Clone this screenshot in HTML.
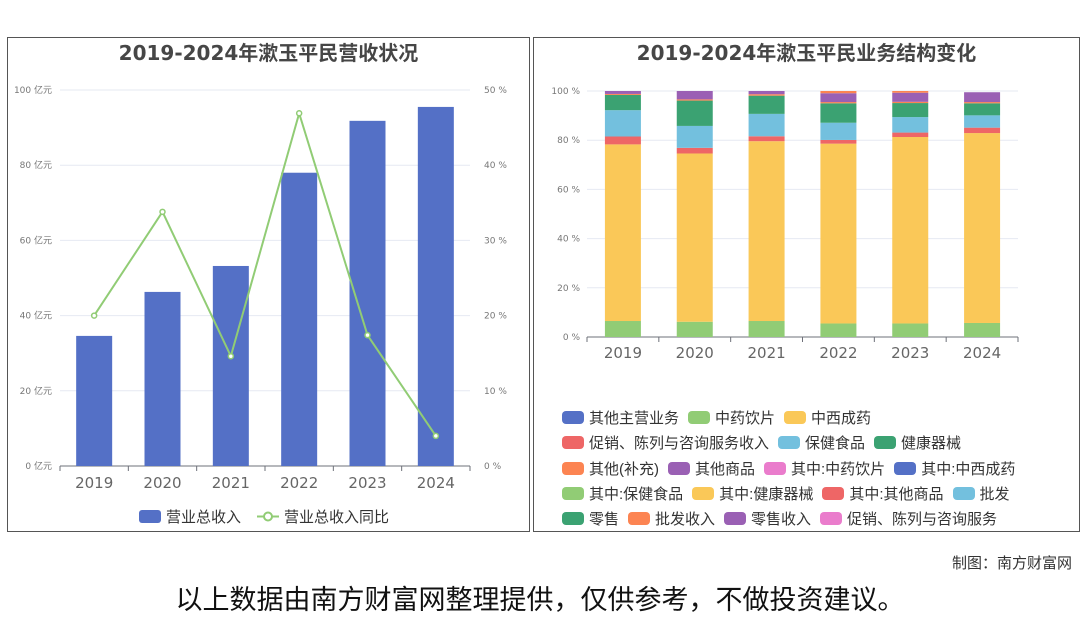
<!DOCTYPE html>
<html><head><meta charset="utf-8"><style>
body{margin:0;width:1080px;height:614px;background:#fff;font-family:"Liberation Sans","Noto Sans CJK SC",sans-serif;position:relative;overflow:hidden}
.panel{position:absolute;border:1px solid #555;background:#fff}
.title{position:absolute;width:100%;text-align:center;top:-1px;font-size:20px;font-weight:bold;color:#464646;font-family:"DejaVu Sans","Noto Sans CJK SC",sans-serif}
.leg{position:absolute;left:28px;font-size:15px;color:#333;display:flex;align-items:center;white-space:nowrap}
.leg span.m{display:inline-block;width:22px;height:13px;border-radius:4px;margin-right:5px}
.leg span.t{margin-right:9px}
svg text{font-family:"DejaVu Sans","Noto Sans CJK SC",sans-serif}
</style></head><body>
<div class="panel" style="left:7px;top:37px;width:521px;height:493px">
<div class="title">2019-2024年漱玉平民营收状况</div>
</div>
<div class="panel" style="left:533px;top:37px;width:545px;height:493px">
<div class="title">2019-2024年漱玉平民业务结构变化</div>
<div id="legR"></div>
</div>
<svg id="s" width="1080" height="614" style="position:absolute;left:0;top:0"></svg>
<div style="position:absolute;right:8px;top:552px;font-size:15px;color:#333">制图：南方财富网</div>
<div style="position:absolute;left:0;width:1080px;top:578px;text-align:center;font-size:27px;color:#111">以上数据由南方财富网整理提供，仅供参考，不做投资建议。</div>
<script>
const years=["2019","2020","2021","2022","2023","2024"];
const revenue=[34.6,46.3,53.2,78.0,91.8,95.5];
const growth=[20.0,33.8,14.6,46.9,17.4,4.0];
const leftTicks=["0 亿元","20 亿元","40 亿元","60 亿元","80 亿元","100 亿元"];
const rightTicks=["0 %","10 %","20 %","30 %","40 %","50 %"];
const pctTicks=["0 %","20 %","40 %","60 %","80 %","100 %"];
const segNames=["中药饮片","中西成药","促销、陈列与咨询服务收入","保健食品","健康器械","其他(补充)","其他商品","批发收入"];
const segColors=["#91cc75","#fac858","#ee6666","#73c0de","#3ba272","#fc8452","#9a60b4","#fc8452"];
const sYaopian=[6.5,6.2,6.5,5.5,5.5,5.7];
const sChengyao=[71.8,68.4,73.1,73.1,75.8,77.2];
const sCuxiao=[3.2,2.3,2.0,1.5,1.8,2.2];
const sBaojian=[10.7,8.9,9.1,7.0,6.3,5.0];
const sQixie=[6.2,10.3,7.4,7.9,5.7,4.9];
const sBuchong=[0.4,0.5,0.6,0.5,0.5,0.5];
const sShangpin=[1.2,3.4,1.3,3.6,3.7,4.0];
const sPifa=[0,0,0,0.9,0.7,0];
const series=[sYaopian,sChengyao,sCuxiao,sBaojian,sQixie,sBuchong,sShangpin,sPifa];
const legendRows=[
[["其他主营业务","#5470c6"],["中药饮片","#91cc75"],["中西成药","#fac858"]],
[["促销、陈列与咨询服务收入","#ee6666"],["保健食品","#73c0de"],["健康器械","#3ba272"]],
[["其他(补充)","#fc8452"],["其他商品","#9a60b4"],["其中:中药饮片","#ea7ccc"],["其中:中西成药","#5470c6"]],
[["其中:保健食品","#91cc75"],["其中:健康器械","#fac858"],["其中:其他商品","#ee6666"],["批发","#73c0de"]],
[["零售","#3ba272"],["批发收入","#fc8452"],["零售收入","#9a60b4"],["促销、陈列与咨询服务","#ea7ccc"]]];
const NS="http://www.w3.org/2000/svg",S=document.getElementById('s');
function mk(t,a,p){const e=document.createElementNS(NS,t);for(const k in a)e.setAttribute(k,a[k]);(p||S).appendChild(e);return e;}
const L={x0:60,x1:470,y0:466,y1:90};
const lx=i=>L.x0+(i+0.5)*(L.x1-L.x0)/years.length;
const ly=v=>L.y0-(v/100)*(L.y0-L.y1);
const ry=v=>L.y0-(v/50)*(L.y0-L.y1);
leftTicks.forEach((t,i)=>{const y=L.y0-i*(L.y0-L.y1)/5;
 if(i>0){const g=mk('line',{x1:L.x0,x2:L.x1,y1:y,y2:y,stroke:'#e6e9f2'});}
 const a=mk('text',{x:52,y:y+3,'font-size':9,fill:'#777','text-anchor':'end'});a.textContent=t;
 const b=mk('text',{x:484,y:y+3,'font-size':9,fill:'#777'});b.textContent=rightTicks[i];});
mk('line',{x1:L.x0,x2:L.x1,y1:L.y0,y2:L.y0,stroke:'#6e7079'});
years.forEach((y,i)=>{const bw=36;const r=mk('rect',{x:lx(i)-bw/2,y:ly(revenue[i]),width:bw,height:L.y0-ly(revenue[i]),fill:'#5470c6'});
 
 const t=mk('text',{x:lx(i),y:488,'font-size':15,fill:'#666','text-anchor':'middle'});t.textContent=y;
 const k=L.x0+i*(L.x1-L.x0)/6;mk('line',{x1:k,x2:k,y1:L.y0,y2:L.y0+5,stroke:'#6e7079'});});
mk('line',{x1:L.x1,x2:L.x1,y1:L.y0,y2:L.y0+5,stroke:'#6e7079'});
const ln=mk('polyline',{points:growth.map((v,i)=>lx(i)+','+ry(v)).join(' '),fill:'none',stroke:'#91cc75','stroke-width':2});

growth.forEach((v,i)=>{const c=mk('circle',{cx:lx(i),cy:ry(v),r:2.5,fill:'#fff',stroke:'#91cc75','stroke-width':1.5});});
{const r=mk('rect',{x:139,y:510,width:22,height:13,rx:3,fill:'#5470c6'});
 const t=mk('text',{x:166,y:522,'font-size':15,fill:'#333'});t.textContent='营业总收入';
 mk('line',{x1:257,x2:279,y1:516.5,y2:516.5,stroke:'#91cc75','stroke-width':2});
 mk('circle',{cx:268,cy:516.5,r:4,fill:'#fff',stroke:'#91cc75','stroke-width':2});
 const t2=mk('text',{x:284,y:522,'font-size':15,fill:'#333'});t2.textContent='营业总收入同比';}
const R={x0:587,x1:1018,y0:337,y1:91};
const bx=i=>R.x0+(i+0.5)*(R.x1-R.x0)/years.length;
const py=v=>R.y0-(v/100)*(R.y0-R.y1);
pctTicks.forEach((t,i)=>{const y=R.y0-i*(R.y0-R.y1)/5;
 if(i>0){const g=mk('line',{x1:R.x0,x2:R.x1,y1:y,y2:y,stroke:'#e6e9f2'});}
 const a=mk('text',{x:580,y:y+3,'font-size':9,fill:'#777','text-anchor':'end'});a.textContent=t;});
mk('line',{x1:R.x0,x2:R.x1,y1:R.y0,y2:R.y0,stroke:'#6e7079'});
years.forEach((y,i)=>{let acc=0;series.forEach((s,j)=>{const v=s[i];if(v<=0)return;
 const r=mk('rect',{x:bx(i)-18,y:py(acc+v),width:36,height:py(acc)-py(acc+v),fill:segColors[j]});
 acc+=v;});
 const t=mk('text',{x:bx(i),y:358,'font-size':15,fill:'#666','text-anchor':'middle'});t.textContent=y;
 const k=R.x0+i*(R.x1-R.x0)/6;mk('line',{x1:k,x2:k,y1:R.y0,y2:R.y0+5,stroke:'#6e7079'});});
mk('line',{x1:R.x1,x2:R.x1,y1:R.y0,y2:R.y0+5,stroke:'#6e7079'});
const LG=document.getElementById('legR');
legendRows.forEach((row,ri)=>{const d=document.createElement('div');d.className='leg';d.style.top=(369+ri*25.3)+'px';
 
 
 row.forEach(([n,c])=>{const m=document.createElement('span');m.className='m';m.style.background=c;
  
  
  const t=document.createElement('span');t.className='t';t.textContent=n;
  
  
  d.appendChild(m);d.appendChild(t);});LG.appendChild(d);});
</script>
</body></html>
